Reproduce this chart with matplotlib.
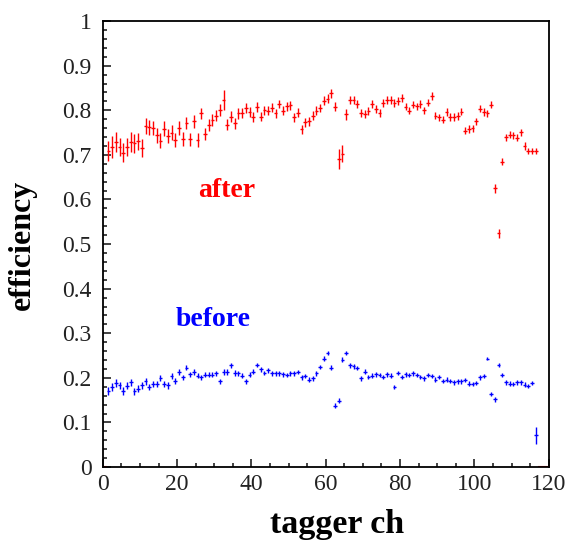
import numpy as np
from matplotlib import pyplot as plt

plt.rcParams['font.family'] = ['Liberation Serif', 'DejaVu Serif']

# tagger channels 1..116 (histogram bins of width 1, drawn at bin centres)
channels = np.arange(1, 117)

after_eff = [
    0.709, 0.718, 0.729, 0.717, 0.705, 0.717, 0.729, 0.726, 0.730, 0.715,
    0.765, 0.762, 0.760, 0.744, 0.732, 0.759, 0.742, 0.750, 0.733, 0.760,
    0.736, 0.771, 0.735, 0.775, 0.733, 0.793, 0.747, 0.767, 0.778, 0.788,
    0.800, 0.823, 0.768, 0.786, 0.771, 0.793, 0.793, 0.805, 0.796, 0.784,
    0.808, 0.785, 0.800, 0.799, 0.806, 0.793, 0.814, 0.799, 0.809, 0.811,
    0.784, 0.794, 0.757, 0.773, 0.775, 0.788, 0.799, 0.805, 0.821, 0.826,
    0.838, 0.808, 0.691, 0.703, 0.791, 0.824, 0.823, 0.815, 0.793, 0.791,
    0.799, 0.814, 0.803, 0.794, 0.817, 0.823, 0.823, 0.817, 0.820, 0.827,
    0.808, 0.799, 0.812, 0.809, 0.814, 0.800, 0.817, 0.832, 0.788, 0.784,
    0.779, 0.796, 0.785, 0.785, 0.787, 0.797, 0.754, 0.758, 0.760, 0.775,
    0.803, 0.796, 0.793, 0.812, 0.625, 0.524, 0.685, 0.739, 0.745, 0.744,
    0.738, 0.751, 0.720, 0.708, 0.708, 0.708,
]
after_err = [
    0.022, 0.024, 0.022, 0.020, 0.022, 0.020, 0.022, 0.021, 0.020, 0.020,
    0.018, 0.017, 0.016, 0.017, 0.016, 0.017, 0.016, 0.016, 0.016, 0.015,
    0.015, 0.014, 0.015, 0.014, 0.015, 0.013, 0.014, 0.013, 0.013, 0.013,
    0.013, 0.022, 0.013, 0.012, 0.012, 0.012, 0.011, 0.011, 0.011, 0.011,
    0.011, 0.010, 0.010, 0.010, 0.010, 0.010, 0.010, 0.010, 0.010, 0.010,
    0.010, 0.010, 0.010, 0.010, 0.010, 0.010, 0.010, 0.010, 0.010, 0.010,
    0.010, 0.010, 0.022, 0.020, 0.012, 0.009, 0.009, 0.009, 0.009, 0.009,
    0.009, 0.009, 0.009, 0.009, 0.009, 0.009, 0.009, 0.009, 0.009, 0.009,
    0.008, 0.008, 0.008, 0.008, 0.008, 0.008, 0.008, 0.008, 0.008, 0.008,
    0.008, 0.008, 0.008, 0.008, 0.008, 0.008, 0.008, 0.008, 0.008, 0.008,
    0.008, 0.008, 0.008, 0.008, 0.010, 0.010, 0.008, 0.008, 0.008, 0.008,
    0.008, 0.008, 0.008, 0.007, 0.007, 0.007,
]

before_eff = [
    0.171, 0.180, 0.189, 0.183, 0.170, 0.182, 0.190, 0.170, 0.176, 0.183,
    0.192, 0.179, 0.186, 0.186, 0.199, 0.187, 0.183, 0.205, 0.193, 0.213,
    0.201, 0.223, 0.208, 0.213, 0.205, 0.201, 0.207, 0.207, 0.207, 0.210,
    0.192, 0.213, 0.213, 0.228, 0.211, 0.210, 0.205, 0.192, 0.207, 0.214,
    0.229, 0.219, 0.211, 0.217, 0.210, 0.210, 0.210, 0.208, 0.207, 0.210,
    0.210, 0.213, 0.201, 0.204, 0.196, 0.199, 0.210, 0.225, 0.243, 0.256,
    0.223, 0.138, 0.149, 0.241, 0.256, 0.228, 0.226, 0.222, 0.199, 0.214,
    0.202, 0.205, 0.208, 0.207, 0.202, 0.208, 0.205, 0.180, 0.211, 0.202,
    0.208, 0.207, 0.210, 0.207, 0.202, 0.199, 0.207, 0.204, 0.196, 0.202,
    0.193, 0.196, 0.193, 0.190, 0.192, 0.192, 0.195, 0.187, 0.186, 0.189,
    0.201, 0.204, 0.243, 0.164, 0.152, 0.229, 0.207, 0.190, 0.187, 0.186,
    0.190, 0.190, 0.185, 0.182, 0.189, 0.071,
]
before_err = [
    0.009, 0.009, 0.009, 0.008, 0.009, 0.008, 0.008, 0.008, 0.008, 0.008,
    0.007, 0.007, 0.007, 0.007, 0.007, 0.007, 0.007, 0.007, 0.007, 0.007,
    0.006, 0.006, 0.006, 0.006, 0.006, 0.006, 0.006, 0.006, 0.006, 0.006,
    0.006, 0.006, 0.006, 0.006, 0.006, 0.006, 0.006, 0.006, 0.006, 0.006,
    0.005, 0.005, 0.005, 0.005, 0.005, 0.005, 0.005, 0.005, 0.005, 0.005,
    0.005, 0.005, 0.005, 0.005, 0.005, 0.005, 0.005, 0.005, 0.005, 0.005,
    0.005, 0.006, 0.006, 0.005, 0.005, 0.005, 0.005, 0.005, 0.005, 0.005,
    0.005, 0.005, 0.005, 0.005, 0.005, 0.005, 0.005, 0.005, 0.005, 0.005,
    0.005, 0.005, 0.005, 0.005, 0.005, 0.005, 0.005, 0.005, 0.005, 0.005,
    0.005, 0.005, 0.005, 0.005, 0.005, 0.005, 0.005, 0.005, 0.005, 0.005,
    0.005, 0.005, 0.004, 0.005, 0.005, 0.005, 0.005, 0.005, 0.005, 0.005,
    0.005, 0.005, 0.005, 0.005, 0.005, 0.019,
]

# empty bins of the histogram (drawn as a flat line at zero)
empty_bins = [0, 117, 118, 119]

x = channels + 0.5

fig = plt.figure(figsize=(5.68, 5.40), dpi=100)
ax = fig.add_axes([0.181, 0.135, 0.785, 0.826])

ax.errorbar(x, before_eff, xerr=0.5, yerr=before_err, fmt='none',
            ecolor='#0000ff', elinewidth=1.0)
ax.errorbar(x, after_eff, xerr=0.5, yerr=after_err, fmt='none',
            ecolor='#ff0000', elinewidth=1.0)
ax.errorbar(np.array(empty_bins) + 0.5, np.zeros(len(empty_bins)), xerr=0.5,
            fmt='none', ecolor='#ff0000', elinewidth=1.5)

ax.set_xlim(0, 120)
ax.set_ylim(0, 1)
ax.set_xticks(np.arange(0, 121, 20))
ax.set_xticks(np.arange(0, 121, 5), minor=True)
ax.set_yticks(np.arange(0, 1.01, 0.1))
ax.set_yticks(np.arange(0, 1.001, 0.02), minor=True)
ax.set_yticklabels(['0', '0.1', '0.2', '0.3', '0.4', '0.5', '0.6', '0.7', '0.8', '0.9', '1'])
ax.tick_params(which='both', direction='in', top=False, right=False,
               labelsize=17, colors='#222222', width=1.2)
ax.tick_params(which='major', length=6)
ax.tick_params(which='minor', length=3)
ax.tick_params(axis='y', pad=8)
ax.tick_params(axis='x', pad=5)
for s in ax.spines.values():
    s.set_linewidth(1.3)

ax.text(33.4, 0.62, 'after', color='#ff0000', fontsize=20, fontweight='bold',
        ha='center', va='center')
ax.text(29.6, 0.33, 'before', color='#0000ff', fontsize=20, fontweight='bold',
        ha='center', va='center')

fig.text(0.039, 0.546, 'efficiency', rotation=90, fontsize=23, fontweight='bold',
         ha='center', va='center')
fig.text(0.593, 0.029, 'tagger ch', fontsize=24.5, fontweight='bold',
         ha='center', va='center')

fig.savefig('out.png', dpi=100)
